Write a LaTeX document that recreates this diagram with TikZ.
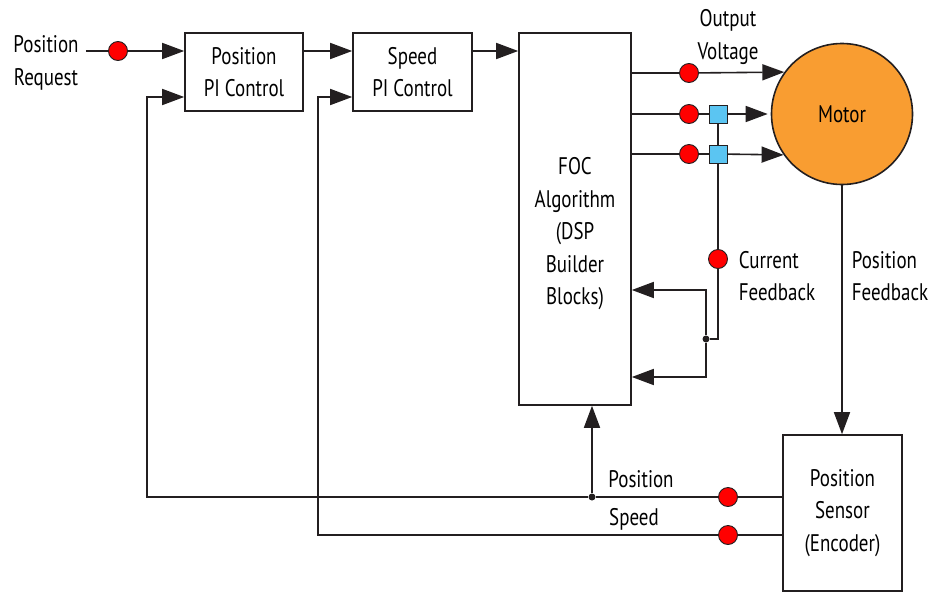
\documentclass[tikz,border=0pt]{standalone}
\usepackage{fontspec}
\setmainfont[FakeStretch=0.79]{PT Sans}
\usepackage{xcolor}
\usepackage{tikz}
\usetikzlibrary{positioning,arrows.meta,calc}
\definecolor{ln}{HTML}{231F20}
\definecolor{dotred}{HTML}{FF0000}
\definecolor{sqblue}{HTML}{5BC5F2}
\definecolor{motorange}{HTML}{F99D31}
\newcommand{\diafont}{\fontsize{24}{32.5}\selectfont}
\tikzset{
  blk/.style={draw=ln, line width=1.6pt, align=center, font=\diafont, inner sep=3pt, fill=white},
  txt/.style={align=center, font=\diafont, inner sep=2pt},
  wire/.style={draw=ln, line width=1.6pt},
  flow/.style={wire, -{Triangle[length=22pt, width=16pt]}},
}

\begin{document}
\begin{tikzpicture}[x=1pt, y=-1pt,
  dot/.style={circle, draw=ln, line width=0.9pt, fill=dotred, minimum size=19pt, inner sep=0pt},
  sq/.style={rectangle, draw=ln, line width=0.9pt, fill=sqblue, minimum size=18pt, inner sep=0pt},
  jn/.style={circle, fill=ln, minimum size=7pt, inner sep=0pt},
  motor/.style={circle, draw=ln, line width=1.6pt, fill=motorange, minimum size=141pt, font=\diafont},
]
  \useasboundingbox (0,0) rectangle (932,592);

  \node[txt] (req) at (46,63) {Position\\Request};
  \node[blk, minimum width=118pt, minimum height=78pt] (ppi) at (244,72) {Position\\PI Control};
  \node[blk, minimum width=119pt, minimum height=78pt] (spi) at (412.5,72) {Speed\\PI Control};
  \node[blk, minimum width=112pt, minimum height=372pt] (foc) at (575,219) {};
  \node[txt] (foctxt) at (575,234) {FOC\\Algorithm\\(DSP\\Builder\\Blocks)};
  \node[motor] (mot) at (842,114) {Motor};
  \node[blk, minimum width=119pt, minimum height=156pt] (sen) at (842.5,513) {Position\\Sensor\\(Encoder)};

  \node[txt] (vout) at (728,37) {Output\\Voltage};
  \node[txt, align=left] (curfb) at (777,276) {Current\\Feedback};
  \node[txt, align=left] (posfb) at (890,276) {Position\\Feedback};
  \node[txt] (poslbl) at (641,479) {Position};
  \node[txt] (spdlbl) at (634,519) {Speed};

  \node[dot] (dr) at (118,51) {};
  \node[dot] (dv) at (689,73) {};
  \node[dot] (da) at (689,114) {};
  \node[dot] (db) at (689,154) {};
  \node[sq] (sa) at (718,114) {};
  \node[sq] (sb) at (718,154) {};
  \node[dot] (dc) at (718,259) {};
  \node[dot] (dp) at (728,497) {};
  \node[dot] (ds) at (728,535) {};
  \node[jn] (jc) at (706,339) {};
  \node[jn] (jp) at (592,497) {};

  \coordinate (fb1) at (foc.east |- 0,290);
  \coordinate (fb2) at (foc.east |- 0,377);
  \coordinate (pcor) at (147,497);
  \coordinate (scor) at (318,535);

  \draw[wire] ([xshift=5pt]req.east |- dr) -- (dr);
  \draw[flow] (dr) -- (ppi.west |- dr);
  \draw[flow] (ppi.east |- dr) -- (spi.west |- dr);
  \draw[flow] (spi.east |- dr) -- (foc.west |- dr);

  \draw[wire] (foc.east |- dv) -- (dv);
  \draw[flow] (dv) -- (mot.144);
  \draw[wire] (foc.east |- da) -- (da) -- (sa);
  \draw[flow, shorten >=3pt] (sa) -- (mot.west);
  \draw[wire] (foc.east |- db) -- (db) -- (sb);
  \draw[flow] (sb) -- (mot.215);
  \draw[wire] (sa) -- (sb) -- (dc) |- (jc);
  \draw[flow] (jc) |- (fb1);
  \draw[flow] (jc) |- (fb2);

  \draw[flow] (mot.south) -- (mot.south |- sen.north);

  \draw[wire] (sen.west |- dp) -- (dp) -- (jp);
  \draw[flow] (jp) -- (jp |- foc.south);
  \draw[flow] (jp) -- (pcor) |- ([yshift=-25pt]ppi.west);
  \draw[wire] (sen.west |- ds) -- (ds);
  \draw[flow] (ds) -- (scor) |- ([yshift=-25pt]spi.west);
\end{tikzpicture}
\end{document}
